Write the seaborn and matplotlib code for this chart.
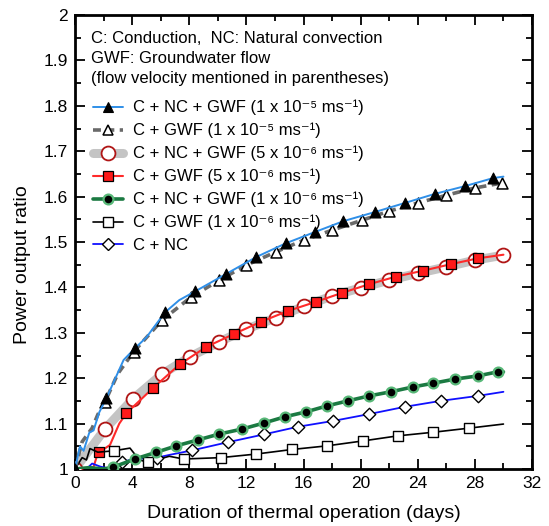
import numpy as np
import pandas as pd
import matplotlib
matplotlib.use("Agg")
import matplotlib.pyplot as plt
from matplotlib.lines import Line2D
from matplotlib.ticker import MultipleLocator
import seaborn as sns

# ---------------- data ----------------
labels = [
    "C + NC + GWF (1 x 10\u207b\u2075 ms\u207b\u00b9)",
    "C + GWF (1 x 10\u207b\u2075 ms\u207b\u00b9)",
    "C + NC + GWF (5 x 10\u207b\u2076 ms\u207b\u00b9)",
    "C + GWF (5 x 10\u207b\u2076 ms\u207b\u00b9)",
    "C + NC + GWF (1 x 10\u207b\u2076 ms\u207b\u00b9)",
    "C + GWF (1 x 10\u207b\u2076 ms\u207b\u00b9)",
    "C + NC",
]

# series 1: C + NC + GWF (1e-5)
s1_x = [0, 2.2, 4.2, 6.3, 8.4, 10.6, 12.7, 14.75, 16.8, 18.8, 21.0, 23.1, 25.2, 27.3, 29.3]
s1_y = [1.0, 1.156, 1.266, 1.345, 1.391, 1.430, 1.467, 1.497, 1.522, 1.546, 1.566, 1.586, 1.606, 1.623, 1.641]
s1_lx = [0.35, 0.6, 1.0, 1.3, 1.7, 2.9, 3.4, 5.0, 7.3, 30.0]
s1_ly = [1.05, 1.04, 1.08, 1.085, 1.125, 1.205, 1.24, 1.29, 1.372, 1.644]

# series 2: C + GWF (1e-5)
s2_x = [0, 2.1, 4.1, 6.1, 8.1, 10.1, 12.0, 14.05, 16.0, 18.0, 20.1, 22.0, 24.0, 26.0, 28.0, 29.9]
s2_y = [1.0, 1.148, 1.258, 1.328, 1.378, 1.416, 1.449, 1.478, 1.504, 1.526, 1.548, 1.568, 1.586, 1.603, 1.619, 1.630]
s2_lx = [0.5, 1.2, 1.6, 3.0]
s2_ly = [1.06, 1.09, 1.12, 1.21]

# series 3: C + NC + GWF (5e-6)
s3_x = [0, 2.1, 4.05, 6.1, 8.05, 10.1, 12.0, 14.05, 16.0, 18.0, 20.0, 22.0, 24.0, 26.0, 28.0, 30.0]
s3_y = [1.0, 1.088, 1.154, 1.209, 1.247, 1.280, 1.308, 1.333, 1.358, 1.381, 1.399, 1.416, 1.431, 1.445, 1.460, 1.471]
s3_lx = []
s3_ly = []

# series 4: C + GWF (5e-6)
s4_x = [1.7, 3.6, 5.45, 7.35, 9.2, 11.1, 13.0, 14.9, 16.85, 18.7, 20.6, 22.5, 24.4, 26.3, 28.2]
s4_y = [1.037, 1.123, 1.178, 1.231, 1.269, 1.297, 1.324, 1.348, 1.368, 1.388, 1.407, 1.424, 1.437, 1.451, 1.464]
s4_lx = [0, 0.5, 1.0, 1.3, 1.5, 2.45, 3.1, 30.0]
s4_ly = [1.0, 1.002, 1.0, 1.005, 1.025, 1.053, 1.10, 1.472]

# series 5: C + NC + GWF (1e-6)
s5_x = [2.66, 4.2, 5.7, 7.1, 8.6, 10.1, 11.7, 13.2, 14.7, 16.2, 17.65, 19.1, 20.6, 22.1, 23.7, 25.1, 26.6, 28.2, 29.6]
s5_y = [1.004, 1.022, 1.037, 1.051, 1.064, 1.077, 1.088, 1.101, 1.115, 1.126, 1.139, 1.150, 1.161, 1.170, 1.181, 1.189, 1.198, 1.205, 1.214]
s5_lx = [0, 1.0, 2.0, 30.0]
s5_ly = [1.0, 1.003, 1.0, 1.214]

# series 6: C + GWF (1e-6)
s6_x = [2.7, 5.1, 7.6, 10.2, 12.7, 15.2, 17.65, 20.2, 22.6, 25.1, 27.6]
s6_y = [1.040, 1.015, 1.022, 1.025, 1.033, 1.043, 1.051, 1.062, 1.073, 1.081, 1.090]
s6_lx = [0, 0.5, 0.8, 1.05, 1.6, 3.85, 4.5, 6.6, 30.0]
s6_ly = [1.0, 1.025, 1.02, 1.045, 1.037, 1.046, 1.02, 1.028, 1.099]

# series 7: C + NC
s7_x = [3.3, 5.75, 8.2, 10.7, 13.2, 15.6, 18.1, 20.6, 23.1, 25.6, 28.2]
s7_y = [1.016, 1.025, 1.041, 1.059, 1.076, 1.093, 1.106, 1.121, 1.137, 1.150, 1.161]
s7_lx = [0, 0.8, 1.2, 1.8, 2.6, 4.2, 6.6, 30.0]
s7_ly = [1.0, 1.0, 1.012, 1.005, 1.0, 1.022, 1.031, 1.170]

header = ["C: Conduction,  NC: Natural convection",
          "GWF: Groundwater flow",
          "(flow velocity mentioned in parentheses)"]

# ---------------- styling ----------------
sns.set_style("ticks")
plt.rcParams["font.family"] = ["Liberation Sans", "DejaVu Sans"]
plt.rcParams["axes.unicode_minus"] = True
plt.rcParams["text.color"] = "black"
plt.rcParams["axes.labelcolor"] = "black"
plt.rcParams["xtick.color"] = "black"
plt.rcParams["ytick.color"] = "black"

styles = [
    dict(line=dict(color="#2f8fe8", lw=1.4, ls="-"),
         mk=dict(marker="^", s=62, facecolor="black", edgecolor="black", lw=0.8), z=9),
    dict(line=dict(color="#6a6a6a", lw=2.6, ls=(0, (2.2, 1.5))),
         mk=dict(marker="^", s=62, facecolor="white", edgecolor="black", lw=1.1), z=8),
    dict(line=dict(color="#c4c4c4", lw=6.5, ls="-"),
         mk=dict(marker="o", s=100, facecolor="white", edgecolor="#b01515", lw=1.3), z=3),
    dict(line=dict(color="#ff2a2a", lw=1.5, ls="-"),
         mk=dict(marker="s", s=48, facecolor="#ff1a1a", edgecolor="black", lw=0.9), z=4),
    dict(line=dict(color="#1b7a42", lw=2.6, ls="-"),
         mk=dict(marker="o", s=50, facecolor="black", edgecolor="#58b878", lw=1.6), z=6),
    dict(line=dict(color="black", lw=1.2, ls="-"),
         mk=dict(marker="s", s=42, facecolor="white", edgecolor="black", lw=1.0), z=5),
    dict(line=dict(color="#1010ff", lw=1.3, ls="-"),
         mk=dict(marker="D", s=40, facecolor="white", edgecolor="black", lw=1.0), z=4.5),
]

series = [
    (s1_x, s1_y, s1_lx, s1_ly), (s2_x, s2_y, s2_lx, s2_ly),
    (s3_x, s3_y, s3_lx, s3_ly), (s4_x, s4_y, s4_lx, s4_ly),
    (s5_x, s5_y, s5_lx, s5_ly), (s6_x, s6_y, s6_lx, s6_ly),
    (s7_x, s7_y, s7_lx, s7_ly),
]

fig = plt.figure(figsize=(5.49, 5.26), dpi=100)
ax = fig.add_axes([75 / 549, 57 / 526, 457 / 549, 454 / 526])

handles = []
for (mx, my, lx, ly), st, lab in zip(series, styles, labels):
    line_df = pd.DataFrame({"x": list(mx) + list(lx), "y": list(my) + list(ly)}).sort_values("x")
    ls = st["line"]
    sns.lineplot(data=line_df, x="x", y="y", ax=ax, color=ls["color"], lw=ls["lw"],
                 linestyle=ls["ls"], estimator=None, sort=False, zorder=st["z"] - 0.5,
                 legend=False)
    mk = st["mk"]
    sns.scatterplot(x=mx, y=my, ax=ax, marker=mk["marker"], s=mk["s"], color=mk["facecolor"],
                    edgecolor=mk["edgecolor"], linewidth=mk["lw"], zorder=st["z"], legend=False)
    handles.append(Line2D([], [], color=ls["color"], lw=ls["lw"], linestyle=ls["ls"],
                          marker=mk["marker"], markersize=np.sqrt(mk["s"]),
                          markerfacecolor=mk["facecolor"], markeredgecolor=mk["edgecolor"],
                          markeredgewidth=mk["lw"], label=lab))

ax.set_xlim(0, 32)
ax.set_ylim(1, 2)
ax.xaxis.set_major_locator(MultipleLocator(4))
ax.xaxis.set_minor_locator(MultipleLocator(2))
ax.yaxis.set_major_locator(MultipleLocator(0.1))
ax.yaxis.set_minor_locator(MultipleLocator(0.05))
ax.set_yticks(np.arange(1, 2.01, 0.1))
ax.set_yticklabels(["1", "1.1", "1.2", "1.3", "1.4", "1.5", "1.6", "1.7", "1.8", "1.9", "2"])
ax.tick_params(which="both", direction="in", top=True, right=True, labelsize=12.5,
               width=1.3, colors="black")
ax.tick_params(which="major", length=7, pad=5)
ax.tick_params(which="minor", length=4)
for sp in ax.spines.values():
    sp.set_linewidth(2)
    sp.set_color("black")

ax.set_xlabel("Duration of thermal operation (days)", fontsize=14, labelpad=10, color="black")
ax.set_ylabel("Power output ratio", fontsize=14, color="black")
ax.yaxis.set_label_coords(-0.097, 0.45)

for i, t in enumerate(header):
    ax.text(0.035, 0.949 - i * 0.044, t, transform=ax.transAxes, fontsize=12,
            ha="left", va="center", color="black")

leg = ax.legend(handles=handles, loc="upper left", bbox_to_anchor=(0.039, 0.813),
                frameon=False, fontsize=12, handlelength=1.8, handletextpad=0.6,
                labelspacing=0.45, borderaxespad=0, borderpad=0, labelcolor="black")
leg.set_zorder(20)

fig.savefig("out.png", dpi=100)
